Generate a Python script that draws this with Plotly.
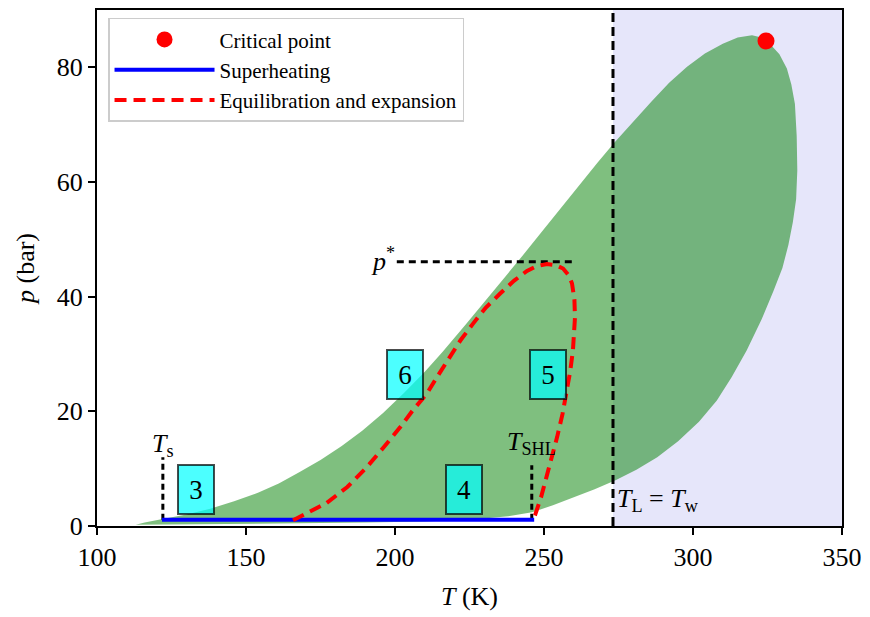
import plotly.graph_objects as go

# ---- data ----
env_T = [113, 116, 122, 130, 138, 146, 154, 161, 168, 175, 182, 189, 196, 203, 210, 216, 224,
         232, 238, 244, 250, 256, 262, 268, 273.5, 280, 286, 292, 298, 304, 310, 315, 319.8,
         323, 326, 329, 331.5, 333, 334.2, 334.8, 335, 334.6, 333.5, 332, 330, 327, 323, 318,
         313, 308, 302, 295, 288, 281, 274, 267, 260, 253, 246, 238, 228, 210, 190, 160, 130, 113]
env_p = [0.2, 0.6, 1.2, 2.0, 3.0, 4.3, 5.8, 7.4, 9.4, 11.5, 13.9, 16.6, 19.7, 23.2, 26.9, 30.4, 35.3,
         40.3, 44.1, 47.9, 51.8, 55.7, 59.6, 63.4, 66.8, 70.6, 74.0, 77.3, 80.1, 82.4, 84.1, 85.2, 85.6,
         85.2, 84.0, 82.3, 79.8, 77.0, 73.6, 68.0, 62.0, 57.0, 53.0, 49.0, 45.0, 41.0, 36.0, 30.6,
         26.0, 21.9, 18.2, 14.8, 12.0, 9.8, 8.0, 6.4, 5.0, 3.6, 2.4, 1.7, 1.2, 0.8, 0.6, 0.4, 0.25, 0.2]

crit_T = [324.5]
crit_p = [84.6]

sh_T = [121.8, 246.7]
sh_p = [1.1, 1.1]

eq_T = [165.8, 171, 177, 184, 190.6, 196, 201.7, 206, 210.7, 214.5, 218.5, 222, 226.2, 230.5,
        235.2, 240, 244.3, 247.5, 251, 254, 256.4, 258.3, 259.4, 260.2, 260.4, 260.2, 259.7,
        258.8, 257.7, 256.2, 254.4, 252.7, 251, 249, 247, 246.5]
eq_p = [1.0, 2.4, 4.0, 6.8, 10.3, 13.6, 17.2, 20.2, 23.1, 26.3, 29.4, 32.4, 35.3, 38.1,
        40.5, 42.8, 44.5, 45.3, 45.7, 45.5, 44.9, 43.7, 42.3, 39.5, 36.4, 33.5, 30.6,
        27.0, 23.7, 19.5, 15.5, 12.0, 8.5, 5.0, 1.9, 1.2]

T_s = 122.1
T_SHL = 245.9
T_w = 273.15
p_star = 46.1
p_star_T = [200.6, 260.4]
T_s_p = [1.1, 12.0]
T_SHL_p = [1.1, 10.6]

box_labels = ["3", "4", "5", "6"]
box_T = [133.2, 223.2, 251.3, 203.2]
box_p = [6.4, 6.4, 26.4, 26.4]

x_range = [100, 350]
y_range = [0, 90]
x_ticks = [100, 150, 200, 250, 300, 350]
y_ticks = [0, 20, 40, 60, 80]

FONT = "Liberation Serif"

fig = go.Figure()

# two-phase envelope
fig.add_trace(go.Scatter(x=env_T, y=env_p, fill="toself", mode="lines",
                         line=dict(width=0), fillcolor="rgba(0,128,0,0.5)",
                         showlegend=False, hoverinfo="skip"))

# p* dashed line
fig.add_trace(go.Scatter(x=p_star_T, y=[p_star, p_star], mode="lines",
                         line=dict(color="black", width=3, dash="7px,5px"),
                         showlegend=False))
# T_s and T_SHL dotted lines
fig.add_trace(go.Scatter(x=[T_s, T_s], y=T_s_p, mode="lines",
                         line=dict(color="black", width=3, dash="6px,4px"),
                         showlegend=False))
fig.add_trace(go.Scatter(x=[T_SHL, T_SHL], y=T_SHL_p, mode="lines",
                         line=dict(color="black", width=3, dash="6px,4px"),
                         showlegend=False))

fig.add_trace(go.Scatter(x=crit_T, y=crit_p, mode="markers", name="Critical point",
                         marker=dict(color="red", size=17)))
fig.add_trace(go.Scatter(x=sh_T, y=sh_p, mode="lines", name="Superheating",
                         line=dict(color="blue", width=4)))
fig.add_trace(go.Scatter(x=eq_T, y=eq_p, mode="lines", name="Equilibration and expansion",
                         line=dict(color="red", width=4, dash="12px,7px")))

# lavender region and wall-temperature line
fig.add_shape(type="rect", xref="x", yref="paper", x0=T_w, x1=x_range[1], y0=0, y1=1,
              fillcolor="#E6E6FA", line=dict(width=0), layer="below")
fig.add_shape(type="line", xref="x", yref="paper", x0=T_w, x1=T_w, y0=0, y1=1,
              line=dict(color="black", width=3, dash="9px,5px"), layer="above")

# numbered boxes
for lab, bx, by in zip(box_labels, box_T, box_p):
    fig.add_annotation(x=bx, y=by, text=lab, showarrow=False,
                       font=dict(family=FONT, size=27, color="black"),
                       bgcolor="rgba(0,255,255,0.7)", bordercolor="rgba(0,0,0,0.7)",
                       borderwidth=2, borderpad=0, width=34, height=47)

# text labels
fig.add_annotation(x=T_s, y=14.2, text="<i>T</i><sub>s</sub>", showarrow=False,
                   font=dict(family=FONT, size=26, color="black"))
fig.add_annotation(x=T_SHL, y=14.4, text="<i>T</i><sub>SHL</sub>", showarrow=False,
                   font=dict(family=FONT, size=26, color="black"))
fig.add_annotation(x=p_star_T[0], y=p_star + 0.3, text="<i>p</i><sup>*</sup>", showarrow=False,
                   xanchor="right", font=dict(family=FONT, size=26, color="black"))
fig.add_annotation(x=T_w + 0.8, y=4.5, text="<i>T</i><sub>L</sub> = <i>T</i><sub>w</sub>",
                   showarrow=False, xanchor="left",
                   font=dict(family=FONT, size=26, color="black"))

axis_common = dict(showline=True, linecolor="black", linewidth=2, mirror=True,
                   ticks="outside", ticklen=7, tickwidth=1.5, tickcolor="black",
                   showgrid=False, zeroline=False,
                   tickfont=dict(family=FONT, size=26, color="black"))

fig.update_xaxes(range=x_range, tickvals=x_ticks, **axis_common,
                 title=dict(text="<i>T</i> (K)", font=dict(family=FONT, size=26, color="black"),
                            standoff=16))
fig.update_yaxes(range=y_range, tickvals=y_ticks, **axis_common,
                 title=dict(text="<i>p</i> (bar)", font=dict(family=FONT, size=26, color="black"),
                            standoff=15))

fig.update_layout(
    width=870, height=617,
    margin=dict(l=97, r=28, t=8, b=91),
    plot_bgcolor="white", paper_bgcolor="white",
    legend=dict(x=0.0148, y=0.985, xanchor="left", yanchor="top",
                bgcolor="white", bordercolor="#cccccc", borderwidth=1.5,
                font=dict(family=FONT, size=21, color="black"),
                itemwidth=100, tracegroupgap=0),
)

fig.write_html("out.html")
